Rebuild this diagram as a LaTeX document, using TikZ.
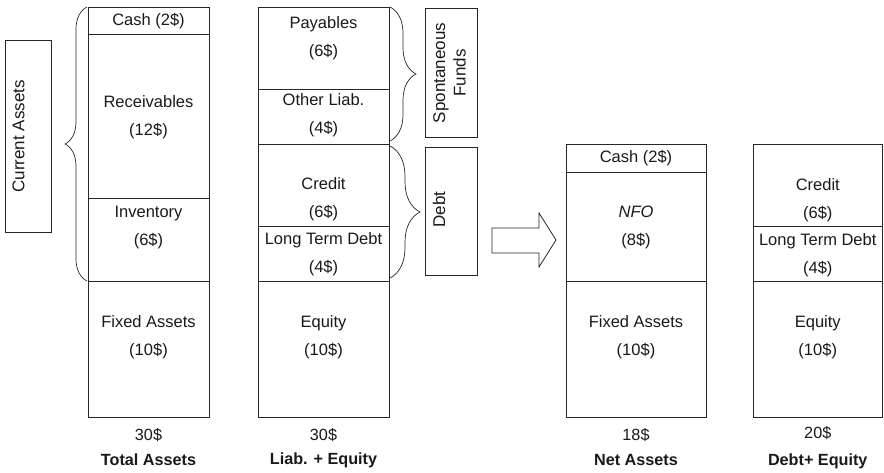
\documentclass[tikz,border=0pt]{standalone}
\usepackage{fontspec}
\setmainfont{Liberation Sans}
\usetikzlibrary{decorations.pathreplacing}
\begin{document}
\begin{tikzpicture}[x=1pt,y=-1pt,
  cell/.style={draw=black!85, line width=0.8pt, rectangle, inner sep=0pt, outer sep=0pt},
  txt/.style={font=\fontsize{16.5}{28}\selectfont, align=center, inner sep=0pt, text=black!90},
  rtxt/.style={font=\fontsize{17}{20.5}\selectfont, align=center, inner sep=0pt, text=black!90, rotate=90},
  lbl/.style={font=\fontsize{16.2}{19}\selectfont\bfseries, inner sep=0pt, text=black!90},
  num/.style={font=\fontsize{16.2}{19}\selectfont, inner sep=0pt, text=black!90},
  brc/.style={draw=black!85, line width=0.7pt, decorate, decoration={brace, amplitude=#1}},
  blockarrow/.style={draw=black!85, line width=0.8pt, fill=white}
]
\useasboundingbox (0,0) rectangle (884,473);

% Column 1: Total Assets
\node[cell, minimum width=121pt, minimum height=27pt]  (c1cash) at (148.5,20.5) {};
\node[cell, minimum width=121pt, minimum height=164pt] (c1rec)  at (148.5,116) {};
\node[cell, minimum width=121pt, minimum height=83pt]  (c1inv)  at (148.5,239.5) {};
\node[cell, minimum width=121pt, minimum height=136pt] (c1fix)  at (148.5,349) {};
\node[txt] (t1cash) at (148.5,21) {Cash (2\$)};
\node[txt] (t1rec)  at (148.5,117.5) {Receivables\\(12\$)};
\node[txt] (t1inv)  at (148.5,228) {Inventory\\(6\$)};
\node[txt] (t1fix)  at (148.5,337.5) {Fixed Assets\\(10\$)};
\node[num] (n1) at (148.5,435) {30\$};
\node[lbl] (l1) at (148.5,460) {Total Assets};

% Column 2: Liab. + Equity
\node[cell, minimum width=131pt, minimum height=82pt]  (c2pay)  at (323.5,48) {};
\node[cell, minimum width=131pt, minimum height=55pt]  (c2oth)  at (323.5,116.5) {};
\node[cell, minimum width=131pt, minimum height=82pt]  (c2cred) at (323.5,185) {};
\node[cell, minimum width=131pt, minimum height=55pt]  (c2ltd)  at (323.5,253.5) {};
\node[cell, minimum width=131pt, minimum height=136pt] (c2eq)   at (323.5,349) {};
\node[txt] (t2pay)  at (323.5,38) {Payables\\(6\$)};
\node[txt] (t2oth)  at (323.5,115) {Other Liab.\\(4\$)};
\node[txt] (t2cred) at (323.5,199) {Credit\\(6\$)};
\node[txt] (t2ltd)  at (323.5,254.5) {Long Term Debt\\(4\$)};
\node[txt] (t2eq)   at (323.5,337.5) {Equity\\(10\$)};
\node[num] (n2) at (323.5,435) {30\$};
\node[lbl] (l2) at (323.5,460) {Liab. + Equity};

% Side boxes
\node[cell, minimum width=46pt, minimum height=192pt] (ca) at (28,136) {};
\node[rtxt] (tca) at (18.5,136.5) {Current Assets};
\node[cell, minimum width=52pt, minimum height=129pt] (sf) at (451,72.5) {};
\node[rtxt] (tsf) at (449.5,73) {Spontaneous\\Funds};
\node[cell, minimum width=52pt, minimum height=128pt] (db) at (451,211) {};
\node[rtxt] (tdb) at (439,209.5) {Debt};

% Braces
\draw[brc=22] ([xshift=-1pt]c1fix.north west) -- ([xshift=-1pt]c1cash.north west);
\draw[brc=26] ([xshift=1pt]c2pay.north east) -- ([xshift=1pt,yshift=3pt]c2oth.south east);
\draw[brc=30] ([xshift=1pt,yshift=-2pt]c2cred.north east) -- ([xshift=1pt,yshift=3pt]c2ltd.south east);

% Block arrow
\draw[blockarrow] (492,228) -- (539,228) -- (539,213) -- (556,240) -- (539,267) -- (539,253) -- (492,253) -- cycle;

% Column 3: Net Assets
\node[cell, minimum width=140pt, minimum height=28pt]  (c3cash) at (636,158) {};
\node[cell, minimum width=140pt, minimum height=109pt] (c3nfo)  at (636,226.5) {};
\node[cell, minimum width=140pt, minimum height=136pt] (c3fix)  at (636,349) {};
\node[txt] (t3cash) at (636,158.5) {Cash (2\$)};
\node[txt] (t3nfo)  at (636,227.5) {\itshape NFO\\(8\$)};
\node[txt] (t3fix)  at (636,337.5) {Fixed Assets\\(10\$)};
\node[num] (n3) at (636,435) {18\$};
\node[lbl] (l3) at (636,460) {Net Assets};

% Column 4: Debt + Equity
\node[cell, minimum width=129.5pt, minimum height=82pt]  (c4cred) at (817.75,185) {};
\node[cell, minimum width=129.5pt, minimum height=55pt]  (c4ltd)  at (817.75,253.5) {};
\node[cell, minimum width=129.5pt, minimum height=136pt] (c4eq)   at (817.75,349) {};
\node[txt] (t4cred) at (817.75,200) {Credit\\(6\$)};
\node[txt] (t4ltd)  at (817.75,255) {Long Term Debt\\(4\$)};
\node[txt] (t4eq)   at (817.75,337.5) {Equity\\(10\$)};
\node[num] (n4) at (817.75,433) {20\$};
\node[lbl] (l4) at (817.75,461) {Debt+ Equity};
\end{tikzpicture}
\end{document}
